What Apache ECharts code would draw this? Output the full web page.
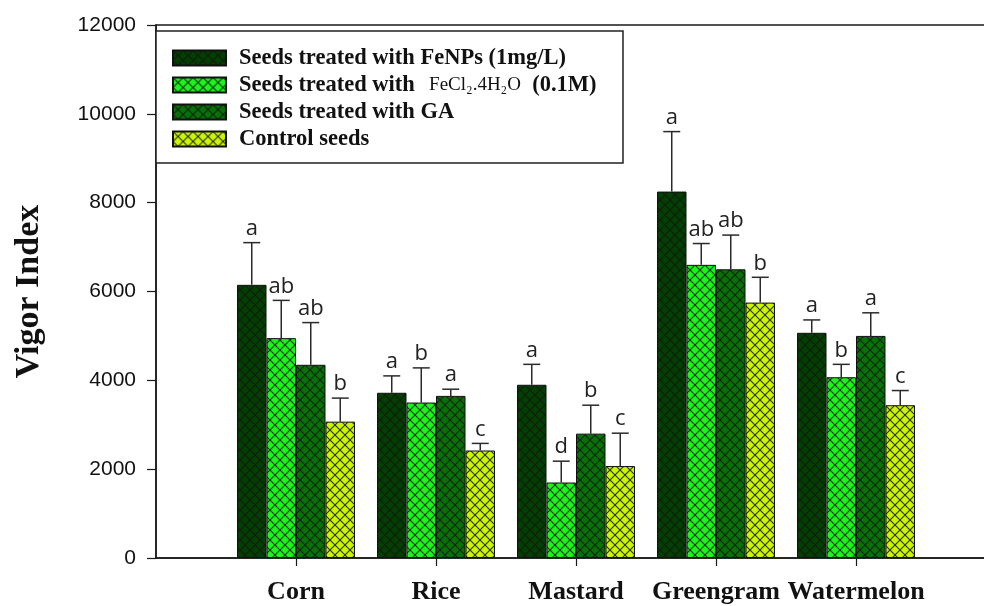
<!DOCTYPE html>
<html>
<head>
<meta charset="utf-8">
<script src="https://cdn.jsdelivr.net/npm/echarts@6/dist/echarts.min.js"></script>
<style>
  html, body { margin: 0; padding: 0; background: #fff; }
  #chart { width: 984px; height: 606px; }
</style>
</head>
<body>
<div id="chart"></div>
<script>
// Crops on the x axis (blank slots pad both ends of the axis)
const crops = ['Corn', 'Rice', 'Mastard', 'Greengram', 'Watermelon'];

// Treatments
const treatments = [
  'Seeds treated with FeNPs (1mg/L)',
  'Seeds treated with FeCl2.4H2O (0.1M)',
  'Seeds treated with GA',
  'Control seeds'
];

// Mean vigor index per crop
const feNPs   = [6150, 3720, 3900, 8250, 5070];
const feCl2   = [4950, 3500, 1700, 6600, 4070];
const gaSeeds = [4350, 3650, 2800, 6500, 5000];
const control = [3070, 2420, 2070, 5750, 3440];

// Upper end of the error bars
const feNPsErr   = [7100, 4100, 4360, 9600, 5360];
const feCl2Err   = [5800, 4280, 2180, 7080, 4360];
const gaSeedsErr = [5300, 3800, 3440, 7270, 5520];
const controlErr = [3600, 2580, 2810, 6320, 3770];

// Significance letters
const feNPsSig   = ['a', 'a', 'a', 'a', 'a'];
const feCl2Sig   = ['ab', 'b', 'd', 'ab', 'b'];
const gaSeedsSig = ['ab', 'a', 'b', 'ab', 'a'];
const controlSig = ['b', 'c', 'c', 'b', 'c'];

// Y axis ticks
const yTicks = [0, 2000, 4000, 6000, 8000, 10000, 12000];

const means = [feNPs, feCl2, gaSeeds, control];
const upper = [feNPsErr, feCl2Err, gaSeedsErr, controlErr];
const letters = [feNPsSig, feCl2Sig, gaSeedsSig, controlSig];
const fills = ['#023f02', '#1af51a', '#077207', '#ccf500'];

const BAR_W = 29.5;
const CAP_W = 17;
const SERIF = '"Liberation Serif", "Times New Roman", serif';

// Cross-hatched fill tile
function hatch(color) {
  const c = document.createElement('canvas');
  c.width = 10; c.height = 10;
  const g = c.getContext('2d');
  g.fillStyle = color;
  g.fillRect(0, 0, 10, 10);
  g.strokeStyle = 'rgba(20,25,15,0.9)';
  g.lineWidth = 1.1;
  g.beginPath();
  g.moveTo(-1, -1); g.lineTo(11, 11);
  g.moveTo(11, -1); g.lineTo(-1, 11);
  g.stroke();
  return { image: c, repeat: 'repeat' };
}

const axisCats = [''].concat(crops, ['']);
const pad = arr => ['-'].concat(arr, ['-']);

const series = [];
means.forEach((vals, s) => {
  series.push({
    name: treatments[s],
    type: 'bar',
    data: pad(vals),
    barWidth: BAR_W,
    barGap: '0%',
    itemStyle: { color: hatch(fills[s]), borderColor: '#111', borderWidth: 1 },
    emphasis: { disabled: true },
    z: 2
  });
});

// Error bars with significance letters above the caps
means.forEach((vals, s) => {
  const offset = (s - 1.5) * BAR_W;
  series.push({
    type: 'custom',
    name: treatments[s] + ' error',
    data: vals.map((v, i) => [i + 1, v, upper[s][i]]),
    z: 3,
    silent: true,
    renderItem: function (params, api) {
      const idx = api.value(0);
      const lo = api.coord([idx, api.value(1)]);
      const hi = api.coord([idx, api.value(2)]);
      const x = lo[0] + offset;
      const line = { stroke: '#2a2a2a', lineWidth: 1.5 };
      return {
        type: 'group',
        children: [
          { type: 'line', shape: { x1: x, y1: lo[1], x2: x, y2: hi[1] }, style: line },
          { type: 'line', shape: { x1: x - CAP_W / 2, y1: hi[1], x2: x + CAP_W / 2, y2: hi[1] }, style: line },
          {
            type: 'text',
            x: x, y: hi[1] - 3,
            style: {
              text: letters[s][params.dataIndex],
              align: 'center', verticalAlign: 'bottom',
              font: '22px "Open Sans", Calibri, sans-serif',
              fill: '#222'
            }
          }
        ]
      };
    }
  });
});

const chart = echarts.init(document.getElementById('chart'), null, { renderer: 'canvas' });
chart.setOption({
  animation: false,
  backgroundColor: '#fff',
  grid: {
    left: 156, top: 25, bottom: 48, width: 840,
    outerBoundsMode: 'none',
    containLabel: false,
    show: true, borderColor: '#1a1a1a', borderWidth: 1.5, backgroundColor: 'transparent'
  },
  graphic: [{
    type: 'rect',
    shape: { x: 156, y: 31, width: 467, height: 132 },
    style: { fill: '#fff', stroke: '#222', lineWidth: 1.5 },
    z: 10
  }],
  legend: {
    orient: 'vertical',
    left: 172, top: 46.5,
    padding: 0,
    icon: 'rect',
    itemWidth: 53, itemHeight: 15, itemGap: 4,
    z: 20,
    selectedMode: false,
    data: treatments,
    formatter: function (name) {
      if (name === treatments[1]) return '{b|Seeds treated with}{s|   FeCl\u2082.4H\u2082O}{b|  (0.1M)}';
      return '{b|' + name + '}';
    },
    textStyle: {
      padding: [0, 0, 0, 8],
      rich: {
        b: { fontFamily: SERIF, fontWeight: 'bold', fontSize: 22.5, color: '#111' },
        s: { fontFamily: SERIF, fontSize: 19, color: '#111' }
      }
    }
  },
  xAxis: {
    type: 'category',
    data: axisCats,
    boundaryGap: false,
    axisLine: { lineStyle: { color: '#1a1a1a', width: 1.5 } },
    axisTick: {
      length: 8,
      interval: function (i) { return i > 0 && i < axisCats.length - 1; },
      lineStyle: { color: '#1a1a1a', width: 1.2 }
    },
    axisLabel: {
      margin: 21,
      interval: 0,
      fontFamily: SERIF,
      fontWeight: 'bold',
      fontSize: 26,
      color: '#111'
    },
    splitLine: { show: false }
  },
  yAxis: {
    type: 'value',
    min: yTicks[0],
    max: yTicks[yTicks.length - 1],
    interval: yTicks[1] - yTicks[0],
    name: 'Vigor Index',
    nameLocation: 'middle',
    nameGap: 110,
    nameTextStyle: {
      fontFamily: SERIF,
      fontWeight: 'bold',
      fontSize: 34,
      color: '#111'
    },
    axisLine: { show: true, lineStyle: { color: '#1a1a1a', width: 1.5 } },
    axisTick: { show: true, length: 9, lineStyle: { color: '#1a1a1a', width: 1.2 } },
    axisLabel: {
      margin: 20,
      formatter: function (v) { return String(v); },
      fontFamily: '"Liberation Sans", Arial, sans-serif',
      fontSize: 21,
      color: '#111'
    },
    splitLine: { show: false }
  },
  series: series
});
</script>
</body>
</html>
